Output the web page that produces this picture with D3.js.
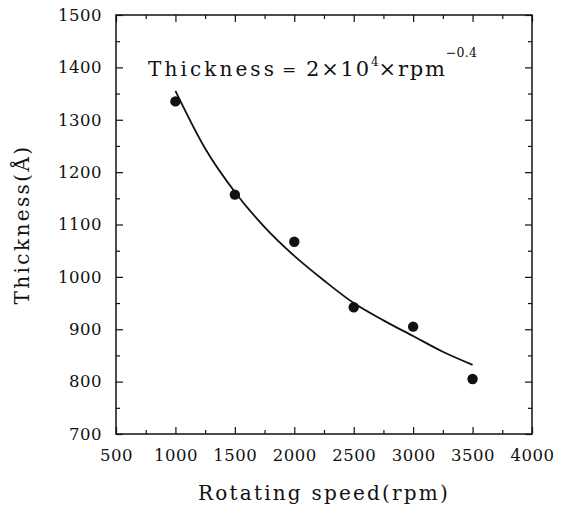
<!DOCTYPE html>
<html>
<head>
<meta charset="utf-8">
<script src="https://cdn.jsdelivr.net/npm/d3@7"></script>
<style>
  html, body { margin: 0; padding: 0; background: #fff; }
  svg { display: block; }
  svg text { font-family: "DejaVu Serif", "Liberation Serif", serif; }
</style>
</head>
<body>
<div id="chart"></div>
<script>
// Measured points (rotating speed vs thickness)
const speeds = [1000, 1500, 2000, 2500, 3000, 3500];
const thickness = [1335, 1157, 1067, 942, 905, 805];

// Fitted curve
const fitSpeeds = [1000, 1250, 1500, 1750, 2000, 2250, 2500, 2750, 3000, 3250, 3500];
const fitThickness = [1355, 1245, 1162, 1095, 1040, 993, 950, 917, 887, 857, 832];

const xTicks = [500, 1000, 1500, 2000, 2500, 3000, 3500, 4000];
const yTicks = [700, 800, 900, 1000, 1100, 1200, 1300, 1400, 1500];

const W = 561, H = 506;
const margin = { top: 15, right: 29, bottom: 72, left: 116 };
const FONT = '"DejaVu Serif", "Liberation Serif", serif';

const x = d3.scaleLinear().domain([500, 4000]).range([margin.left, W - margin.right]);
const y = d3.scaleLinear().domain([700, 1500]).range([H - margin.bottom, margin.top]);

const svg = d3.select('#chart').append('svg')
  .attr('width', W)
  .attr('height', H);

const ink = '#111';

// ── Axes: major ticks inward, minor ticks between ──
const xMinor = d3.range(750, 4000, 500);
const yMinor = d3.range(750, 1500, 100);

function styleAxis(g) {
  g.attr('font-family', FONT);
  g.select('.domain').remove();
  g.selectAll('line').attr('stroke', ink).attr('stroke-width', 1.2);
  g.selectAll('text')
    .attr('fill', ink)
    .attr('font-size', '16.5px')
    .attr('letter-spacing', '0.5px');
}

// bottom
svg.append('g')
  .attr('transform', `translate(0,${y(700)})`)
  .call(d3.axisBottom(x).tickValues(xTicks).tickSize(-7).tickPadding(15).tickFormat(d3.format('d')))
  .call(styleAxis);
svg.append('g')
  .attr('transform', `translate(0,${y(700)})`)
  .call(d3.axisBottom(x).tickValues(xMinor).tickSize(-4).tickFormat(''))
  .call(styleAxis);

// top
svg.append('g')
  .attr('transform', `translate(0,${y(1500)})`)
  .call(d3.axisTop(x).tickValues(xTicks).tickSize(-7).tickFormat(''))
  .call(styleAxis);
svg.append('g')
  .attr('transform', `translate(0,${y(1500)})`)
  .call(d3.axisTop(x).tickValues(xMinor).tickSize(-4).tickFormat(''))
  .call(styleAxis);

// left
svg.append('g')
  .attr('transform', `translate(${x(500)},0)`)
  .call(d3.axisLeft(y).tickValues(yTicks).tickSize(-7).tickPadding(14).tickFormat(d3.format('d')))
  .call(styleAxis);
svg.append('g')
  .attr('transform', `translate(${x(500)},0)`)
  .call(d3.axisLeft(y).tickValues(yMinor).tickSize(-4).tickFormat(''))
  .call(styleAxis);

// right
svg.append('g')
  .attr('transform', `translate(${x(4000)},0)`)
  .call(d3.axisRight(y).tickValues(yTicks).tickSize(-7).tickFormat(''))
  .call(styleAxis);
svg.append('g')
  .attr('transform', `translate(${x(4000)},0)`)
  .call(d3.axisRight(y).tickValues(yMinor).tickSize(-4).tickFormat(''))
  .call(styleAxis);

// Frame
svg.append('rect')
  .attr('x', x(500))
  .attr('y', y(1500))
  .attr('width', x(4000) - x(500))
  .attr('height', y(700) - y(1500))
  .attr('fill', 'none')
  .attr('stroke', ink)
  .attr('stroke-width', 1.5);

// Fitted curve
const line = d3.line()
  .x((d, i) => x(fitSpeeds[i]))
  .y(d => y(d))
  .curve(d3.curveMonotoneX);

svg.append('path')
  .attr('d', line(fitThickness))
  .attr('fill', 'none')
  .attr('stroke', ink)
  .attr('stroke-width', 1.8);

// Data points
svg.selectAll('.pt')
  .data(speeds)
  .enter()
  .append('circle')
  .attr('cx', d => x(d))
  .attr('cy', (d, i) => y(thickness[i]))
  .attr('r', 5.2)
  .attr('fill', ink);

// Equation
const eq = svg.append('g').attr('fill', ink).attr('font-size', '20px');
eq.append('text').attr('x', 148).attr('y', 76).attr('letter-spacing', '3.1px').text('Thickness');
eq.append('text').attr('x', 282).attr('y', 75).attr('font-size', '17px').text('=');
const rhs = eq.append('text').attr('x', 306).attr('y', 76).attr('font-size', '21px').attr('letter-spacing', '1.8px');
rhs.append('tspan').text('2×10');
rhs.append('tspan').attr('dy', -10).attr('font-size', '12px').attr('letter-spacing', '0px').text('4');
rhs.append('tspan').attr('dy', 10).text('×rpm');
rhs.append('tspan').attr('dy', -19).attr('dx', -1).attr('font-size', '12.5px').attr('letter-spacing', '0.3px').text('−0.4');

// Axis titles
svg.append('text')
  .attr('x', 324)
  .attr('y', 500)
  .attr('text-anchor', 'middle')
  .attr('font-size', '20px')
  .attr('letter-spacing', '2.2px')
  .attr('fill', ink)
  .text('Rotating speed(rpm)');

svg.append('text')
  .attr('transform', `translate(29,${(y(700) + y(1500)) / 2}) rotate(-90)`)
  .attr('text-anchor', 'middle')
  .attr('font-size', '20px')
  .attr('letter-spacing', '2.4px')
  .attr('fill', ink)
  .text('Thickness(Å)');
</script>
</body>
</html>
